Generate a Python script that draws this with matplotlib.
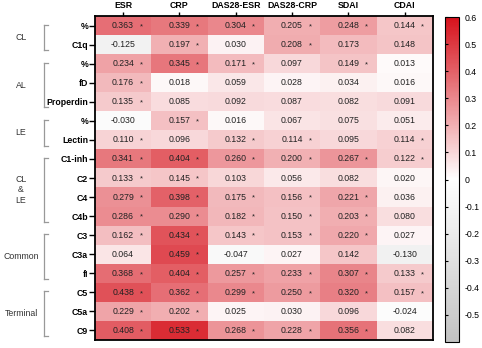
import numpy as np
import matplotlib
matplotlib.use("Agg")
import matplotlib.pyplot as plt
from matplotlib.colors import LinearSegmentedColormap
from matplotlib.lines import Line2D
import matplotlib.transforms as mtransforms

plt.rcParams['font.family'] = ['Liberation Sans', 'DejaVu Sans']

# Data
columns = ["ESR", "CRP", "DAS28-ESR", "DAS28-CRP", "SDAI", "CDAI"]
rows = ["%", "C1q", "%", "fD", "Properdin", "%", "Lectin",
        "C1-inh", "C2", "C4", "C4b", "C3", "C3a", "fI", "C5", "C5a", "C9"]

values = [
    [0.363, 0.339, 0.304, 0.205, 0.248, 0.144],
    [-0.125, 0.197, 0.030, 0.208, 0.173, 0.148],
    [0.234, 0.345, 0.171, 0.097, 0.149, 0.013],
    [0.176, 0.018, 0.059, 0.028, 0.034, 0.016],
    [0.135, 0.085, 0.092, 0.087, 0.082, 0.091],
    [-0.030, 0.157, 0.016, 0.067, 0.075, 0.051],
    [0.110, 0.096, 0.132, 0.114, 0.095, 0.114],
    [0.341, 0.404, 0.260, 0.200, 0.267, 0.122],
    [0.133, 0.145, 0.103, 0.056, 0.082, 0.020],
    [0.279, 0.398, 0.175, 0.156, 0.221, 0.036],
    [0.286, 0.290, 0.182, 0.150, 0.203, 0.080],
    [0.162, 0.434, 0.143, 0.153, 0.220, 0.027],
    [0.064, 0.459, -0.047, 0.027, 0.142, -0.130],
    [0.368, 0.404, 0.257, 0.233, 0.307, 0.133],
    [0.438, 0.362, 0.299, 0.250, 0.320, 0.157],
    [0.229, 0.202, 0.025, 0.030, 0.096, -0.024],
    [0.408, 0.533, 0.268, 0.228, 0.356, 0.082],
]

# 1 = marked with an asterisk
significant = [
    [1, 1, 1, 1, 1, 1],
    [0, 1, 0, 1, 0, 0],
    [1, 1, 1, 0, 1, 0],
    [1, 0, 0, 0, 0, 0],
    [1, 0, 0, 0, 0, 0],
    [0, 1, 0, 0, 0, 0],
    [1, 0, 1, 1, 0, 1],
    [1, 1, 1, 1, 1, 1],
    [1, 1, 0, 0, 0, 0],
    [1, 1, 1, 1, 1, 0],
    [1, 1, 1, 1, 1, 0],
    [1, 1, 1, 1, 1, 0],
    [0, 1, 0, 0, 0, 0],
    [1, 1, 1, 1, 1, 1],
    [1, 1, 1, 1, 1, 1],
    [1, 1, 0, 0, 0, 0],
    [1, 1, 1, 1, 1, 0],
]

# groups: (label, first row, last row)
groups = [("CL", 0, 1), ("AL", 2, 4), ("LE", 5, 6), ("CL\n&\nLE", 7, 10),
          ("Common", 11, 13), ("Terminal", 14, 16)]

cbar_ticks = [-0.5, -0.4, -0.3, -0.2, -0.1, 0, 0.1, 0.2, 0.3, 0.4, 0.5, 0.6]
cbar_labels = ["-0.5", "-0.4", "-0.3", "-0.2", "-0.1", "0",
               "0.1", "0.2", "0.3", "0.4", "0.5", "0.6"]

data = np.array(values)
cmap = LinearSegmentedColormap.from_list("gr", ["#c2c2c2", "#ffffff", "#d6121c"])

fig = plt.figure(figsize=(4.82, 3.48), dpi=100)
ax = fig.add_axes([0.197, 0.023, 0.701, 0.931])
im = ax.imshow(data, cmap=cmap, vmin=-0.6, vmax=0.6, aspect="auto")

fs = 6.3
for i in range(data.shape[0]):
    for j in range(data.shape[1]):
        ax.text(j, i, f"{data[i, j]:.3f}", ha="center", va="center",
                fontsize=fs, color="#222222")
        if significant[i][j]:
            ax.text(j + 0.32, i + 0.06, "*", ha="center", va="center",
                    fontsize=5.5, color="#222222")

ax.xaxis.tick_top()
ax.set_xticks(range(len(columns)))
ax.set_xticklabels(columns, fontsize=fs, fontweight="bold")
ax.set_yticks(range(len(rows)))
ax.set_yticklabels(rows, fontsize=fs, fontweight="bold")
ax.tick_params(axis="x", length=3, width=1, pad=1.5)
ax.tick_params(axis="y", length=4, width=1, pad=1)
for sp in ax.spines.values():
    sp.set_linewidth(1.3)

# group brackets on the left
trans = mtransforms.blended_transform_factory(fig.transFigure, ax.transData)
xv, xh = 0.0913, 0.0996
for label, i0, i1 in groups:
    top, bot = i0 - 0.05, i1 + 0.3
    for xs, ys in [([xv, xv], [top, bot]), ([xv, xh], [top, top]), ([xv, xh], [bot, bot])]:
        ax.add_line(Line2D(xs, ys, transform=trans, color="#999999",
                           lw=0.9, clip_on=False))
    ax.text(0.0436, (top + bot) / 2, label, transform=trans, ha="center",
            va="center", fontsize=fs, color="#333333", linespacing=1.2)

# colorbar
cax = fig.add_axes([0.923, 0.017, 0.029, 0.934])
cb = fig.colorbar(im, cax=cax)
cb.set_ticks(cbar_ticks)
cb.set_ticklabels(cbar_labels)
cb.outline.set_linewidth(0.8)
cax.tick_params(left=True, right=False, labelleft=False, labelright=True,
                direction="in", length=2.5, width=0.8, labelsize=fs, pad=4)

fig.savefig("out.png", dpi=100)
